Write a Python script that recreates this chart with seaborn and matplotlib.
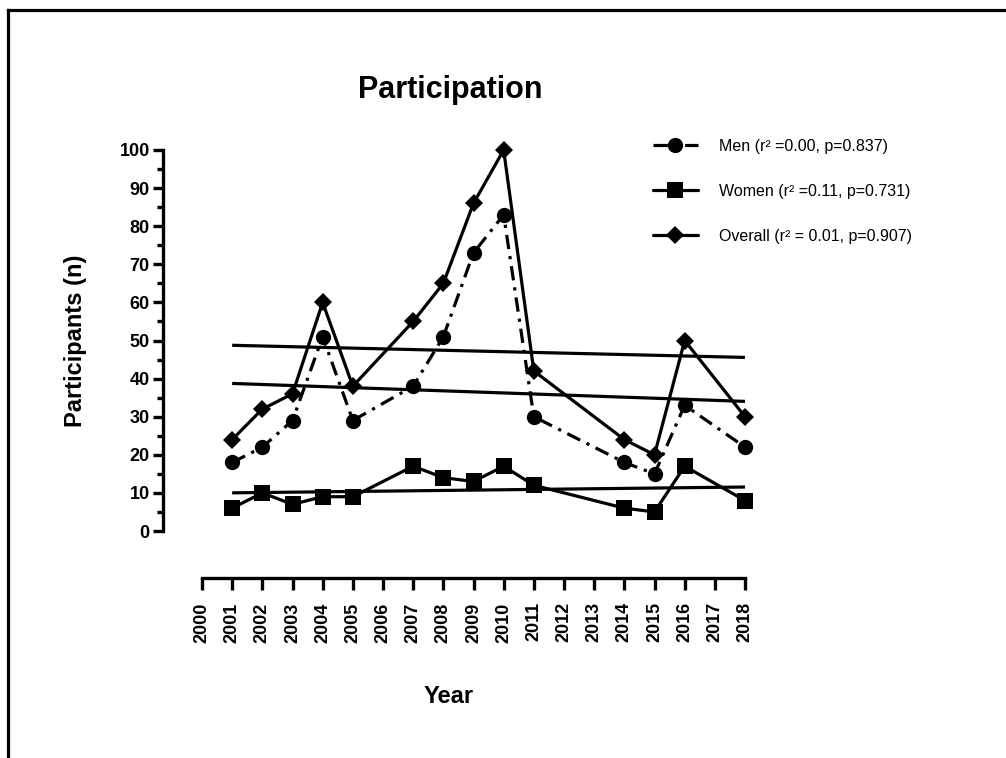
import numpy as np
import pandas as pd
import matplotlib
matplotlib.use('Agg')
import matplotlib.pyplot as plt
from matplotlib.lines import Line2D
from matplotlib.ticker import MultipleLocator
import seaborn as sns

# ---- data ----
years = [2001, 2002, 2003, 2004, 2005, 2007, 2008, 2009, 2010, 2011, 2014, 2015, 2016, 2018]
men = [18, 22, 29, 51, 29, 38, 51, 73, 83, 30, 18, 15, 33, 22]
women = [6, 10, 7, 9, 9, 17, 14, 13, 17, 12, 6, 5, 17, 8]
overall = [24, 32, 36, 60, 38, 55, 65, 86, 100, 42, 24, 20, 50, 30]
series_names = ['Men', 'Women', 'Overall']
legend_labels = ['Men (r² =0.00, p=0.837)',
                 'Women (r² =0.11, p=0.731)',
                 'Overall (r² = 0.01, p=0.907)']
x_ticks = list(range(2000, 2019))
y_ticks = list(range(0, 101, 10))
title = 'Participation'
x_label = 'Year'
y_label = 'Participants (n)'

sns.set_style('white')
plt.rcParams['font.family'] = ['Liberation Sans', 'DejaVu Sans']
for k in ['text.color', 'axes.labelcolor', 'xtick.color', 'ytick.color',
          'axes.edgecolor']:
    plt.rcParams[k] = 'black'

W, H = 1006, 758
fig = plt.figure(figsize=(W / 100, H / 100), dpi=100)
ax = fig.add_axes([202 / W, 1 - 531 / H, (745 - 202) / W, (531 - 150) / H])

df = pd.DataFrame({'Year': years, 'Men': men, 'Women': women, 'Overall': overall})

LW = 2.3
styles = {
    'Men': dict(marker='o', markersize=11, linestyle=(0, (4.5, 2.2, 1, 2.2))),
    'Women': dict(marker='s', markersize=11, linestyle='-'),
    'Overall': dict(marker='D', markersize=8.8, linestyle='-'),
}

# regression lines
for name in series_names:
    sns.regplot(data=df, x='Year', y=name, ax=ax, scatter=False, ci=None,
                truncate=True, color='black',
                line_kws=dict(lw=LW, clip_on=False, solid_capstyle='butt'))

# data lines
for name in series_names:
    st = styles[name]
    sns.lineplot(data=df, x='Year', y=name, ax=ax, color='black', lw=LW,
                 marker=st['marker'], markersize=st['markersize'],
                 linestyle=st['linestyle'], mec='black', mew=0,
                 clip_on=False, zorder=3)

ax.set_xlim(2000, 2018)
ax.set_ylim(0, 100)

for s in ['top', 'right']:
    ax.spines[s].set_visible(False)
ax.spines['left'].set_position(('outward', 39 * 0.72))
ax.spines['bottom'].set_position(('outward', 47 * 0.72))
ax.spines['left'].set_bounds(0, 100)
ax.spines['bottom'].set_bounds(2000, 2018)
for s in ['left', 'bottom']:
    ax.spines[s].set_linewidth(2.4)
    ax.spines[s].set_color('black')

ax.set_xticks(x_ticks)
ax.set_xticklabels([str(t) for t in x_ticks], rotation=90, fontsize=13,
                   fontweight='bold')
ax.set_yticks(y_ticks)
ax.set_yticklabels([str(t) for t in y_ticks], fontsize=13, fontweight='bold')
ax.yaxis.set_minor_locator(MultipleLocator(5))

ax.tick_params(axis='y', which='major', direction='out', length=7.5, width=2.4,
               pad=2, color='black', left=True)
ax.tick_params(axis='y', which='minor', direction='out', length=4, width=2.4,
               color='black', left=True)
ax.tick_params(axis='x', which='major', direction='out', length=8.5, width=2.4,
               pad=9, color='black', bottom=True)

ax.set_xlabel(x_label, fontsize=17, fontweight='bold')
ax.set_ylabel(y_label, fontsize=17, fontweight='bold')
ax.xaxis.set_label_coords(0.455, -0.405)
ax.yaxis.set_label_coords(-0.212, 0.5)
ax.grid(False)

fig.text(450 / W, 1 - 98 / H, title, ha='center', va='baseline',
         fontsize=22, fontweight='bold')

# legend
handles = []
for name in series_names:
    st = styles[name]
    handles.append(Line2D([], [], color='black', lw=LW, marker=st['marker'],
                          markersize=st['markersize'], linestyle=st['linestyle'],
                          mec='black', mew=0))
fig.legend(handles, legend_labels, loc='upper left',
           bbox_to_anchor=(653 / W, 1 - 139 / H), frameon=False,
           fontsize=11.5, handlelength=2.8, handletextpad=1.35,
           labelspacing=1.88, borderpad=0, borderaxespad=0)

# figure frame (top and left edges)
fig.add_artist(Line2D([7.5 / W, 7.5 / W], [1 - 10 / H, 0], transform=fig.transFigure,
                      color='black', lw=2.3, solid_capstyle='projecting'))
fig.add_artist(Line2D([7.5 / W, 1], [1 - 10 / H, 1 - 10 / H], transform=fig.transFigure,
                      color='black', lw=2.3, solid_capstyle='projecting'))

fig.savefig('out.png', dpi=100, facecolor='white')
